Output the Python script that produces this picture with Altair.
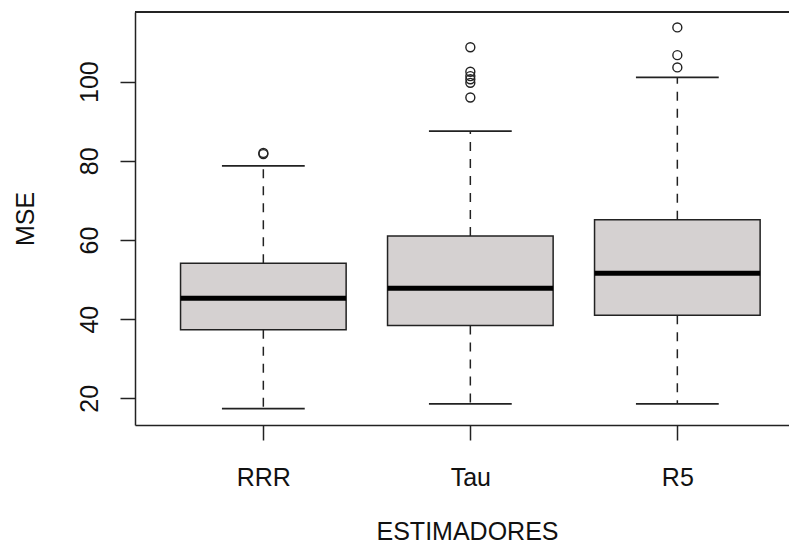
import altair as alt
import pandas as pd

# ---- data ----
categories = ["RRR", "Tau", "R5"]
lower_whisker = [17.4, 18.6, 18.6]
q1 = [37.3, 38.4, 41.0]
median = [45.3, 47.8, 51.6]
q3 = [54.1, 61.0, 65.1]
upper_whisker = [78.7, 87.5, 101.1]

outliers_rrr = [82.0, 81.7]
outliers_tau = [108.7, 102.5, 101.4, 100.6, 99.7, 96.0]
outliers_r5 = [113.7, 106.7, 103.6]

y_ticks = [20, 40, 60, 80, 100]

# ---- tables ----
stats = pd.DataFrame({
    "cat": categories,
    "pos": list(range(1, len(categories) + 1)),
    "lower": lower_whisker,
    "q1": q1,
    "median": median,
    "q3": q3,
    "upper": upper_whisker,
})
out_rows = []
for i, vals in enumerate([outliers_rrr, outliers_tau, outliers_r5]):
    for v in vals:
        out_rows.append({"cat": categories[i], "pos": i + 1, "value": v})
outs = pd.DataFrame(out_rows)

W = 654
H = 413
PX_PER_UNIT = 207.0
x_lo = 0.38
xscale = alt.Scale(domain=[x_lo, x_lo + W / PX_PER_UNIT], nice=False, zero=False)
yscale = alt.Scale(domain=[13.25, 117.6], nice=False, zero=False)

FONT = "Liberation Sans, Arial, sans-serif"
LINE = "#222222"

label_expr = "[" + ",".join("'%s'" % c for c in categories) + "][datum.value - 1]"

xaxis = alt.Axis(
    values=list(range(1, len(categories) + 1)),
    labelExpr=label_expr,
    title="ESTIMADORES",
    grid=False,
    tickSize=15, tickWidth=1.5, tickColor=LINE,
    domainColor=LINE, domainWidth=1.5,
    labelPadding=45, labelBaseline="alphabetic", labelAlign="center",
    labelFont=FONT, labelFontSize=25, labelColor="#111",
    titleFont=FONT, titleFontSize=25, titleFontWeight="normal", titleColor="#111",
    titleBaseline="alphabetic", titleY=114, titleX=332,
)
yaxis = alt.Axis(
    values=y_ticks,
    title="MSE",
    grid=False,
    tickSize=15, tickWidth=1.5, tickColor=LINE,
    domainColor=LINE, domainWidth=1.5,
    labelAngle=270, labelAlign="center", labelBaseline="alphabetic",
    labelPadding=23,
    labelFont=FONT, labelFontSize=25, labelColor="#111",
    titleFont=FONT, titleFontSize=25, titleFontWeight="normal", titleColor="#111",
    titleAngle=270, titleAlign="center", titleBaseline="alphabetic",
    titleX=-102, titleY=206.5,
)

def X(field):
    return alt.X(field, type="quantitative", scale=xscale, axis=xaxis)

def Y(field):
    return alt.Y(field, type="quantitative", scale=yscale, axis=yaxis)

base = alt.Chart(stats).transform_calculate(
    lo="datum.pos - 0.4", hi="datum.pos + 0.4",
    clo="datum.pos - 0.2", chi="datum.pos + 0.2",
)

box = base.mark_rect(fill="#D5D1D1", stroke=LINE, strokeWidth=1.5).encode(
    x=X("lo"), x2="hi:Q", y=Y("q1"), y2="q3:Q"
)
med = base.mark_rule(color="#000000", strokeWidth=5).encode(
    x=X("lo"), x2="hi:Q", y=Y("median")
)
whisk_up = base.mark_rule(color=LINE, strokeWidth=1.5, strokeDash=[9, 8]).encode(
    x=X("pos"), y=Y("q3"), y2="upper:Q"
)
whisk_lo = base.mark_rule(color=LINE, strokeWidth=1.5, strokeDash=[9, 8]).encode(
    x=X("pos"), y=Y("q1"), y2="lower:Q"
)
cap_up = base.mark_rule(color=LINE, strokeWidth=1.8).encode(
    x=X("clo"), x2="chi:Q", y=Y("upper")
)
cap_lo = base.mark_rule(color=LINE, strokeWidth=1.8).encode(
    x=X("clo"), x2="chi:Q", y=Y("lower")
)
pts = alt.Chart(outs).mark_point(
    shape="circle", filled=False, size=80, stroke=LINE, strokeWidth=1.4, opacity=1
).encode(x=X("pos"), y=Y("value"))

top_border = alt.Chart(stats).mark_rule(color=LINE, strokeWidth=1.5).encode(
    x=alt.value(0), x2=alt.value(W), y=alt.value(0)
)

chart = alt.layer(box, med, whisk_up, whisk_lo, cap_up, cap_lo, pts, top_border).properties(
    width=W, height=H,
    autosize=alt.AutoSizeParams(type="none"),
    padding={"left": 127, "top": 4, "right": 0, "bottom": 119},
    background="white",
).configure_view(stroke=None)

chart.save("out.html", embed_options={"renderer": "svg", "actions": False})
